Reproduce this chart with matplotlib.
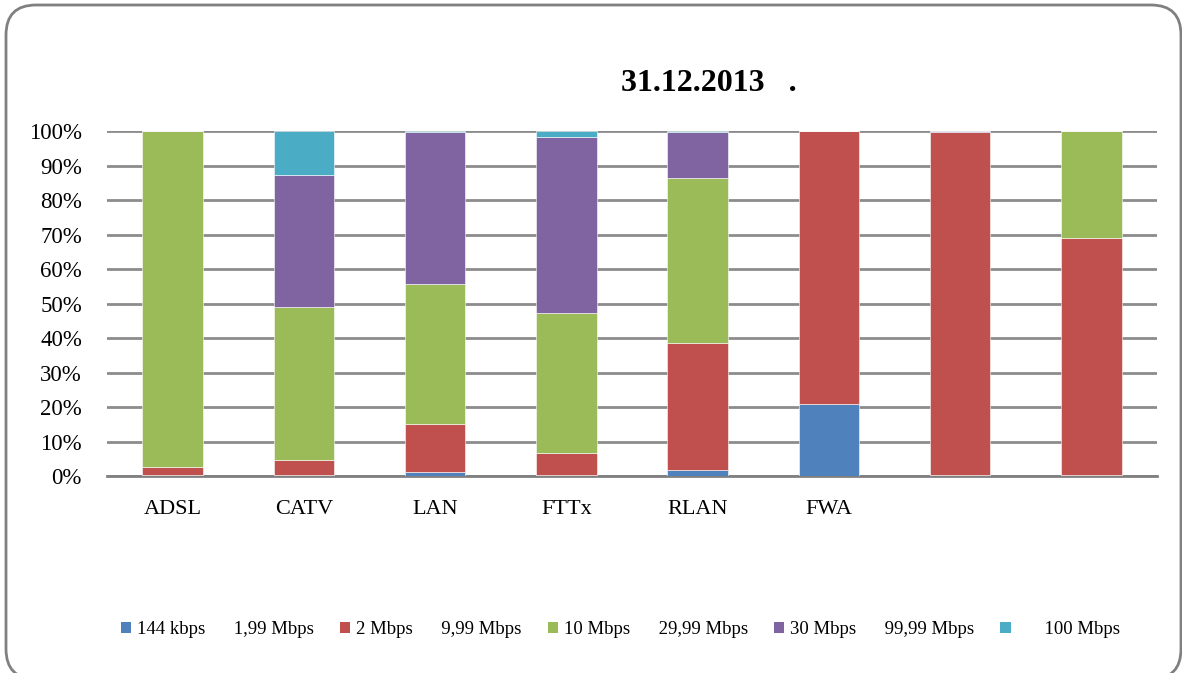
import numpy as np
import matplotlib.pyplot as plt
from matplotlib.patches import FancyBboxPatch, Patch

# categories (the last two lost their labels in the source)
kategorii = ['ADSL', 'CATV', 'LAN', 'FTTx', 'RLAN', 'FWA', '', '']

# shares per speed band, %
s_144k = [0.3, 0.3, 1.1, 0.3, 1.7, 20.8, 0.2, 0.2]
s_2m = [2.3, 4.3, 13.9, 6.4, 37.0, 79.2, 99.5, 68.7]
s_10m = [97.4, 44.5, 40.6, 40.5, 47.6, 0.0, 0.0, 31.1]
s_30m = [0.0, 38.3, 44.0, 51.1, 13.4, 0.0, 0.3, 0.0]
s_100m = [0.0, 12.6, 0.4, 1.7, 0.3, 0.0, 0.0, 0.0]

legenda = ['144 kbps      1,99 Mbps', '2 Mbps      9,99 Mbps',
           '10 Mbps      29,99 Mbps', '30 Mbps      99,99 Mbps',
           '      100 Mbps']
boi = ['#4F81BD', '#C0504D', '#9BBB59', '#8064A2', '#4BACC6']

plt.rcParams['font.family'] = ['Liberation Serif', 'DejaVu Serif']

fig = plt.figure(figsize=(11.82, 6.73), dpi=100)
ax = fig.add_axes([0.0905, 0.2927, 0.8883, 0.5126])

# rounded frame around the chart (in inches)
ramka = FancyBboxPatch((0.06, -0.06), 11.75, 6.74, boxstyle='round,pad=0,rounding_size=0.3',
                       transform=fig.dpi_scale_trans, fill=False, edgecolor='#808080',
                       linewidth=2)
fig.patches.append(ramka)

x = np.arange(len(kategorii))
dolu = np.zeros(len(kategorii))
for vals, c in zip([s_144k, s_2m, s_10m, s_30m, s_100m], boi):
    ax.bar(x, vals, 0.46, bottom=dolu, color=c, edgecolor='white', linewidth=0.4, zorder=3)
    dolu += np.array(vals)

ax.set_xlim(-0.5, len(kategorii) - 0.5)
ax.set_ylim(0, 100)
ax.set_yticks(np.arange(0, 101, 10))
ax.set_yticklabels([f'{v}%' for v in range(0, 101, 10)], fontsize=16.5)
ax.set_xticks(x)
ax.set_xticklabels(kategorii, fontsize=16)
ax.tick_params(axis='x', length=0, pad=17)
ax.tick_params(axis='y', length=0, pad=18)
ax.yaxis.grid(True, color='#8c8c8c', linewidth=2, zorder=0)
for s in ['top', 'right', 'left']:
    ax.spines[s].set_visible(False)
ax.spines['bottom'].set_color('#808080')
ax.spines['bottom'].set_linewidth(2)

fig.text(0.6, 0.876, '31.12.2013   .', fontsize=23, fontweight='bold', ha='center', va='center')

ruchki = [Patch(facecolor=c, edgecolor='none') for c in boi]
fig.legend(ruchki, legenda, loc='center', bbox_to_anchor=(0.525, 0.064), ncol=5,
           frameon=False, fontsize=13.5, handlelength=0.55, handleheight=0.55,
           handletextpad=0.3, columnspacing=1.4)

fig.savefig('out.png', dpi=100)
